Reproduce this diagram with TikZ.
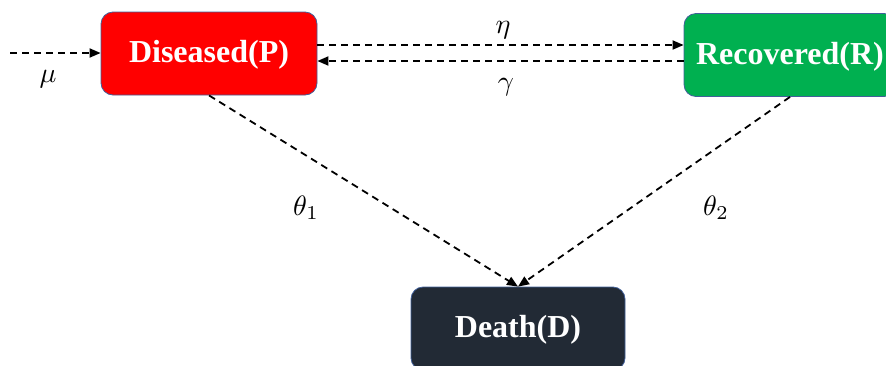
\documentclass[tikz,border=0pt]{standalone}
\usepackage{fontspec}
\newfontfamily\boxfont{Liberation Serif}
\usetikzlibrary{arrows.meta}
\definecolor{pred}{HTML}{FF0000}
\definecolor{rgreen}{HTML}{00B050}
\definecolor{ddark}{HTML}{222A35}
\definecolor{bord}{HTML}{41609A}
\tikzset{
  state/.style={draw=bord, line width=0.8pt, rounded corners=12pt, minimum width=#1, minimum height=83pt,
    text=white, font=\boxfont\bfseries\fontsize{32}{36}\selectfont, inner sep=0pt, text height=22pt, text depth=4pt},
  flow/.style={dashed, dash pattern=on 7pt off 5pt, line width=1.8pt, -{Triangle[length=11pt,width=9pt]}},
  lab/.style={inner sep=0pt}
}
\begin{document}
\begin{tikzpicture}[x=1pt,y=-1pt]
\useasboundingbox (0,0) rectangle (886,365);
\clip (0,0) rectangle (886,365);
\node[state=216pt, fill=pred] (P) at (209,53.5) {Diseased(P)};
\node[state=212pt, fill=rgreen] (R) at (790,55) {Recovered(R)};
\node[state=214pt, fill=ddark] (D) at (518,328.5) {Death(D)};
\coordinate (in) at (10,53);
\draw[flow] (in) -- (in -| P.west);
\draw[flow] (P.east |- 0,45) -- (R.west |- 0,45);
\draw[flow] (R.west |- 0,61) -- (P.east |- 0,61);
\draw[flow] (P.south) -- (D.north);
\draw[flow] (R.south) -- (D.north);
\node[lab] (mu) at (48,79) {\scalebox{2.8}{$\mu$}};
\node[lab] (eta) at (503,30) {\scalebox{2.8}{$\eta$}};
\node[lab] (gam) at (506,87) {\scalebox{2.8}{$\gamma$}};
\node[lab] (t1) at (306,208) {\scalebox{2.8}{$\theta_1$}};
\node[lab] (t2) at (716,208) {\scalebox{2.8}{$\theta_2$}};
\end{tikzpicture}
\end{document}
